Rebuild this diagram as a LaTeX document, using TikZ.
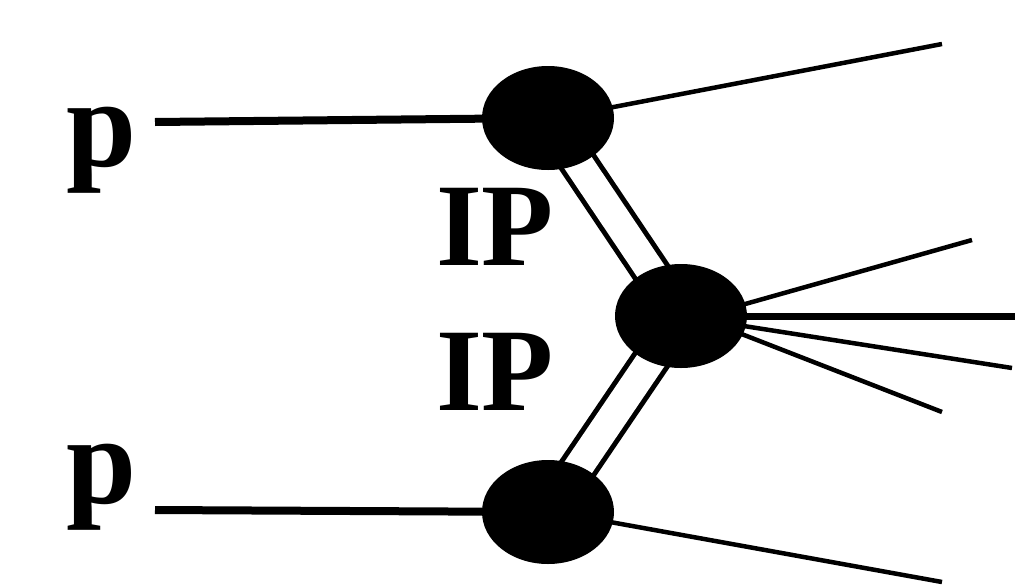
\documentclass[tikz,border=0pt]{standalone}
\usepackage{fontspec}
\setmainfont{Liberation Serif}
\usetikzlibrary{shapes.geometric,backgrounds}
\begin{document}
\begin{tikzpicture}[x=1pt,y=-1pt,
  blob/.style={ellipse,fill=black,minimum width=132pt,minimum height=104pt,inner sep=0pt},
  plbl/.style={font=\fontsize{126}{130}\selectfont\bfseries,inner sep=0pt,anchor=base},
  iplbl/.style={font=\fontsize{118}{130}\selectfont\bfseries,inner sep=0pt,anchor=base},
  beam/.style={line width=8pt},
  jet/.style={line width=4.5pt},
  pom/.style={draw=black,line width=5pt,double=white,double distance=29pt}]
\useasboundingbox (0,0) rectangle (1015,587);
\node[blob] (t) at (548,118) {};
\node[blob] (m) at (681,316) {};
\node[blob] (b) at (548,512) {};
\coordinate (pt) at (155,122);
\coordinate (pb) at (155,510);
\coordinate (o1) at (942,44);
\coordinate (o2) at (972,240);
\coordinate (o3) at (1015,316);
\coordinate (o4) at (1012,368);
\coordinate (o5) at (942,412);
\coordinate (o6) at (942,582);
\begin{pgfonlayer}{background}
\draw[pom] (t.center) -- (m.center);
\draw[pom] (m.center) -- (b.center);
\draw[beam] (pt) -- (t.center);
\draw[beam] (pb) -- (b.center);
\draw[jet] (t.center) ++(50,-8) -- (o1);
\draw[jet] (m.center) ++(50,-8) -- (o2);
\draw[line width=7pt] (m.center) -- (o3);
\draw[jet] (m.center) ++(50,8) -- (o4);
\draw[jet] (m.center) ++(40,10) -- (o5);
\draw[jet] (b.center) ++(40,6) -- (o6);
\end{pgfonlayer}
\node[plbl] (lp1) at (102,166) {p};
\node[plbl] (lp2) at (102,503) {p};
\node[iplbl] (ip1) at (495,265) {IP};
\node[iplbl] (ip2) at (495,410) {IP};
\end{tikzpicture}
\end{document}
